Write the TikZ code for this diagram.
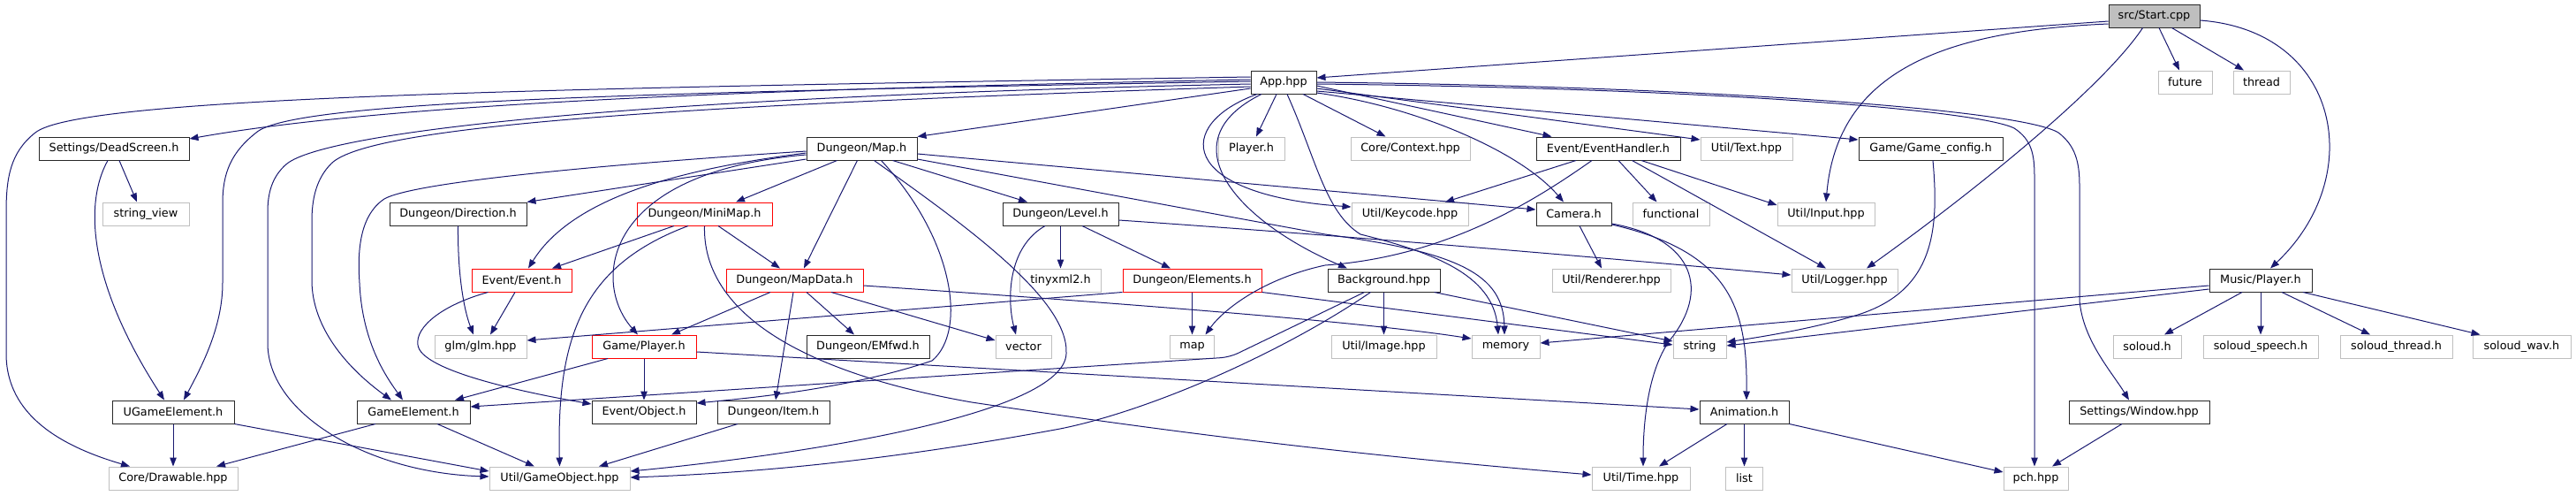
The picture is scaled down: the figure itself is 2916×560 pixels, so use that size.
\documentclass[tikz,border=0pt]{standalone}
\usepackage{fontspec}
\setmainfont{DejaVu Sans}
\usetikzlibrary{arrows.meta}
\definecolor{edgec}{RGB}{25,25,112}
\definecolor{greyb}{RGB}{191,191,191}
\definecolor{rootf}{RGB}{191,191,191}
\definecolor{redb}{RGB}{255,0,0}
\definecolor{darkb}{RGB}{40,40,40}
\begin{document}
\begin{tikzpicture}[x=1pt,y=-1pt,
  every node/.style={font=\fontsize{12.8}{15}\selectfont},
  box/.style={rectangle, draw=darkb, line width=1pt, fill=white, minimum height=26pt, inner sep=0pt, anchor=center},
  ext/.style={box, draw=greyb},
  trunc/.style={box, draw=redb},
  rootbox/.style={box, fill=rootf},
  e/.style={draw=edgec, line width=1pt, -{Triangle[length=10pt,width=7.5pt]}}
]
\useasboundingbox (0,0) rectangle (2916,560);
% row 0/1
\node[rootbox, minimum width=103pt] (start) at (2438.5,18) {src/Start.cpp};
\node[box, minimum width=74pt] (app) at (1453,93) {App.hpp};
\node[ext, minimum width=61pt] (future) at (2473.5,93) {future};
\node[ext, minimum width=64pt] (thread) at (2560,93) {thread};
% row 2
\node[box, minimum width=170pt] (dead) at (129,168) {Settings/DeadScreen.h};
\node[box, minimum width=125pt] (map) at (975.5,168) {Dungeon/Map.h};
\node[ext, minimum width=75pt] (playerh) at (1416.5,168) {Player.h};
\node[ext, minimum width=135pt] (context) at (1596.5,168) {Core/Context.hpp};
\node[box, minimum width=163pt] (evh) at (1820.5,168) {Event/EventHandler.h};
\node[ext, minimum width=104pt] (text) at (1977,168) {Util/Text.hpp};
\node[box, minimum width=163pt] (gconf) at (2185.5,168) {Game/Game\_config.h};
% row 3
\node[ext, minimum width=98pt] (sview) at (165,242) {string\_view};
\node[box, minimum width=155pt] (dir) at (518.5,242) {Dungeon/Direction.h};
\node[trunc, minimum width=153pt] (minimap) at (797.5,242) {Dungeon/MiniMap.h};
\node[box, minimum width=131pt] (level) at (1200.5,242) {Dungeon/Level.h};
\node[ext, minimum width=132pt] (keycode) at (1596,242) {Util/Keycode.hpp};
\node[box, minimum width=85pt] (camera) at (1781.5,242) {Camera.h};
\node[ext, minimum width=87pt] (functional) at (1891.5,242) {functional};
\node[ext, minimum width=110pt] (input) at (2067,242) {Util/Input.hpp};
% row 4
\node[trunc, minimum width=113pt] (event) at (590.5,317) {Event/Event.h};
\node[trunc, minimum width=155pt] (mapdata) at (899.5,317) {Dungeon/MapData.h};
\node[ext, minimum width=92pt] (tinyxml) at (1200.5,317) {tinyxml2.h};
\node[trunc, minimum width=157pt] (elements) at (1349.5,317) {Dungeon/Elements.h};
\node[box, minimum width=127pt] (background) at (1566.5,317) {Background.hpp};
\node[ext, minimum width=134pt] (renderer) at (1824,317) {Util/Renderer.hpp};
\node[ext, minimum width=120pt] (logger) at (2088,317) {Util/Logger.hpp};
\node[box, minimum width=116pt] (music) at (2559,317) {Music/Player.h};
% row 5
\node[ext, minimum width=104pt] (glm) at (544,392) {glm/glm.hpp};
\node[trunc, minimum width=118pt] (gplayer) at (729,392) {Game/Player.h};
\node[box, minimum width=139pt] (emfwd) at (982.5,392) {Dungeon/EMfwd.h};
\node[ext, minimum width=63pt] (vector) at (1158.5,392) {vector};
\node[ext, minimum width=50pt] (stdmap) at (1349.5,392) {map};
\node[ext, minimum width=119pt] (image) at (1566.5,392) {Util/Image.hpp};
\node[ext, minimum width=77pt] (memory) at (1704.5,392) {memory};
\node[ext, minimum width=60pt] (string) at (1924,392) {string};
\node[ext, minimum width=77pt] (soloud) at (2430.5,392) {soloud.h};
\node[ext, minimum width=130pt] (speech) at (2559,392) {soloud\_speech.h};
\node[ext, minimum width=127pt] (sthread) at (2712.5,392) {soloud\_thread.h};
\node[ext, minimum width=111pt] (wav) at (2854.5,392) {soloud\_wav.h};
% row 6
\node[box, minimum width=138pt] (ugame) at (196,466) {UGameElement.h};
\node[box, minimum width=128pt] (gelem) at (468,466) {GameElement.h};
\node[box, minimum width=118pt] (object) at (729,466) {Event/Object.h};
\node[box, minimum width=127pt] (item) at (875.5,466) {Dungeon/Item.h};
\node[box, minimum width=101pt] (anim) at (1974.5,466) {Animation.h};
\node[box, minimum width=159pt] (window) at (2421.5,466) {Settings/Window.hpp};
% row 7
\node[ext, minimum width=146pt] (drawable) at (196,541) {Core/Drawable.hpp};
\node[ext, minimum width=159pt] (gobj) at (633.5,541) {Util/GameObject.hpp};
\node[ext, minimum width=111pt] (time) at (1857.5,541) {Util/Time.hpp};
\node[ext, minimum width=42pt] (list) at (1974.5,541) {list};
\node[ext, minimum width=73pt] (pch) at (2304.5,541) {pch.hpp};

% ---- Start.cpp
\draw[e] ([yshift=-6pt]start.west) -- ([yshift=5pt]app.east);
\draw[e] ([xshift=5.5pt]start.south) -- ([xshift=-6.5pt]future.north);
\draw[e] ([xshift=20pt]start.south) -- ([xshift=-20pt]thread.north);
\draw[e] ([yshift=-5pt]start.east) .. controls (2650,35) and (2680,200) .. ([xshift=11pt]music.north);
\draw[e] ([yshift=-9pt]start.west) .. controls (2200,35) and (2080,80) .. (input.north);
\draw[e] ([xshift=-13pt]start.south) .. controls (2380,100) and (2230,220) .. ([xshift=25pt]logger.north);

% ---- App.hpp
\draw[e] ([yshift=3pt]app.west) .. controls (900,100) and (450,115) .. ([yshift=11pt]dead.east);
\draw[e] ([yshift=6pt]app.west) .. controls (600,100) and (90,110) .. (40,150) .. controls (12,172) and (7,200) .. (7,240) -- (7,400) .. controls (7,470) and (70,505) .. ([xshift=-49pt]drawable.north);
\draw[e] ([yshift=1pt]app.west) .. controls (700,105) and (330,115) .. (290,150) .. controls (262,172) and (252,195) .. (252,230) -- (252,320) .. controls (252,370) and (228,415) .. ([xshift=12pt]ugame.north);
\draw[e] ([yshift=-2pt]app.west) .. controls (700,110) and (370,150) .. (325,185) .. controls (307,200) and (303,220) .. (303,240) -- (303,390) .. controls (305,470) and (420,535) .. ([yshift=2pt]gobj.west);
\draw[e] ([yshift=-5pt]app.west) .. controls (800,118) and (420,140) .. (375,185) .. controls (358,202) and (353,225) .. (353,250) -- (353,320) .. controls (355,380) and (405,425) .. ([xshift=-25pt]gelem.north);
\draw[e] ([yshift=-7pt]app.west) -- (map.north east);
\draw[e] ([xshift=-8pt]app.south) -- ([xshift=5.5pt]playerh.north);
\draw[e] ([xshift=22pt]app.south) -- ([xshift=-28pt]context.north);
\draw[e] ([yshift=-4pt]app.east) -- ([xshift=-64pt]evh.north);
\draw[e] ([yshift=-7pt]app.east) -- ([yshift=10pt]text.west);
\draw[e] ([yshift=-10pt]app.east) -- ([yshift=10pt]gconf.west);
\draw[e] ([yshift=-12pt]app.east) .. controls (1600,120) and (1720,170) .. ([xshift=-11.5pt]camera.north);
\draw[e] ([xshift=-30pt]app.south) .. controls (1330,140) and (1330,220) .. ([yshift=8pt]keycode.west);
\draw[e] ([xshift=-25pt]app.south) .. controls (1320,160) and (1400,250) .. ([xshift=-41.5pt]background.north);
\draw[e] ([xshift=4pt]app.south) .. controls (1490,180) and (1500,240) .. (1540,265) .. controls (1620,285) and (1690,310) .. ([xshift=-8.5pt]memory.north);
\draw[e] ([yshift=-2pt]app.east) .. controls (1950,100) and (2240,125) .. (2280,145) .. controls (2300,158) and (2303,175) .. (2303,200) -- ([xshift=-1.5pt]pch.north);
\draw[e] (app.east) .. controls (1950,98) and (2290,125) .. (2330,150) .. controls (2350,165) and (2354,185) .. (2354,210) -- (2354,340) .. controls (2358,385) and (2390,420) .. ([xshift=-11.5pt]window.north);

% ---- Dungeon/Map.h
\draw[e] ([yshift=-12pt]map.west) -- (dir.north east);
\draw[e] ([yshift=-5pt]map.west) .. controls (780,190) and (650,220) .. ([xshift=7.5pt]event.north);
\draw[e] ([yshift=-7pt]map.west) .. controls (680,195) and (670,320) .. ([xshift=-7pt]gplayer.north);
\draw[e] ([yshift=-3pt]map.west) .. controls (700,185) and (470,205) .. (435,225) .. controls (405,245) and (405,290) .. (407,320) .. controls (410,390) and (440,430) .. ([xshift=-12pt]gelem.north);
\draw[e] ([xshift=-28pt]map.south) -- ([xshift=35.5pt]minimap.north);
\draw[e] ([xshift=-5pt]map.south) -- ([xshift=10.5pt]mapdata.north);
\draw[e] ([xshift=35pt]map.south) -- ([xshift=-37.5pt]level.north);
\draw[e] ([yshift=-6pt]map.east) -- ([yshift=5pt]camera.west);
\draw[e] ([yshift=-12pt]map.east) -- (1500,265) .. controls (1650,285) and (1702,310) .. ([xshift=-1.5pt]memory.north);
\draw[e] ([xshift=14pt]map.south) .. controls (1100,260) and (1210,340) .. (1207,400) .. controls (1204,470) and (900,515) .. ([yshift=8pt]gobj.east);
\draw[e] ([xshift=22pt]map.south) .. controls (1080,270) and (1095,375) .. (1055,408) .. controls (960,440) and (850,450) .. ([yshift=10pt]object.east);

% ---- Settings/DeadScreen.h
\draw[e] ([xshift=6pt]dead.south) -- ([xshift=-10pt]sview.north);
\draw[e] ([xshift=-7pt]dead.south) .. controls (95,230) and (100,320) .. ([xshift=-10pt]ugame.north);

% ---- UGameElement / GameElement
\draw[e] (ugame.south) -- (drawable.north);
\draw[e] (ugame.south east) -- ([yshift=8pt]gobj.west);
\draw[e] ([xshift=-43pt]gelem.south) -- ([xshift=49pt]drawable.north);
\draw[e] ([xshift=27pt]gelem.south) -- ([xshift=-28.5pt]gobj.north);

% ---- Direction / MiniMap / Event
\draw[e] (dir.south) .. controls (518,310) and (525,350) .. ([xshift=-8pt]glm.north);
\draw[e] ([xshift=-34.5pt]minimap.south) -- ([xshift=34.5pt]event.north);
\draw[e] ([xshift=15.5pt]minimap.south) -- ([xshift=-16.5pt]mapdata.north);
\draw[e] ([xshift=-18.5pt]minimap.south) .. controls (660,300) and (630,380) .. (gobj.north);
\draw[e] (minimap.south) .. controls (795,350) and (900,420) .. (1100,455) .. controls (1400,500) and (1600,520) .. ([yshift=4pt]time.west);
\draw[e] ([xshift=-7.5pt]event.south) -- ([xshift=11pt]glm.north);
\draw[e] ([xshift=-38pt]event.south) .. controls (500,345) and (470,370) .. (473,390) .. controls (476,420) and (600,445) .. ([yshift=9pt]object.west);

% ---- MapData
\draw[e] ([xshift=-27.5pt]mapdata.south) -- ([xshift=31pt]gplayer.north);
\draw[e] ([xshift=13.5pt]mapdata.south) -- ([xshift=-15.5pt]emfwd.north);
\draw[e] ([xshift=-1.5pt]mapdata.south) -- ([xshift=2.5pt]item.north);
\draw[e] ([xshift=41.5pt]mapdata.south) -- ([yshift=7pt]vector.west);
\draw[e] ([yshift=-6pt]mapdata.east) .. controls (1300,345) and (1550,365) .. ([yshift=9pt]memory.west);

% ---- Level / Elements
\draw[e] ([xshift=-17.5pt]level.south) .. controls (1140,280) and (1140,340) .. ([xshift=-8.5pt]vector.north);
\draw[e] (level.south) -- (tinyxml.north);
\draw[e] ([xshift=24.5pt]level.south) -- ([xshift=-24.5pt]elements.north);
\draw[e] ([yshift=-7pt]level.east) .. controls (1500,265) and (1800,290) .. ([yshift=6pt]logger.west);
\draw[e] (elements.south) -- (stdmap.north);
\draw[e] (elements.south west) -- ([yshift=7pt]glm.east);
\draw[e] (elements.south east) -- ([yshift=2pt]string.west);

% ---- EventHandler
\draw[e] ([xshift=-36.5pt]evh.south) -- ([xshift=40pt]keycode.north);
\draw[e] ([xshift=-18.5pt]evh.south) .. controls (1740,225) and (1640,290) .. (1500,300) .. controls (1430,315) and (1385,350) .. ([xshift=15pt]stdmap.north);
\draw[e] ([xshift=11.5pt]evh.south) -- ([xshift=-16pt]functional.north);
\draw[e] ([xshift=37.5pt]evh.south) -- ([yshift=10pt]input.west);
\draw[e] ([xshift=27pt]evh.south) -- ([xshift=-21pt]logger.north);

% ---- Camera
\draw[e] ([xshift=6.5pt]camera.south) -- ([xshift=-11pt]renderer.north);
\draw[e] ([yshift=-11pt]camera.east) .. controls (1920,270) and (1935,330) .. (1890,385) .. controls (1865,420) and (1860,480) .. ([xshift=2.5pt]time.north);
\draw[e] ([yshift=-12pt]camera.east) .. controls (1960,285) and (1978,350) .. ([xshift=2.5pt]anim.north);

% ---- Background
\draw[e] (background.south) -- (image.north);
\draw[e] ([xshift=57pt]background.south) -- ([yshift=6pt]string.west);
\draw[e, rounded corners=10pt] ([xshift=-22pt]background.south) -- (1392,404) -- ([yshift=6pt]gelem.east);
\draw[e] ([xshift=-15pt]background.south) .. controls (1450,400) and (1300,465) .. (1200,485) .. controls (1000,522) and (850,535) .. ([yshift=1pt]gobj.east);

% ---- Game/Player.h, Item, Animation, Window
\draw[e] ([xshift=-41pt]gplayer.south) -- ([xshift=47pt]gelem.north);
\draw[e] (gplayer.south) -- (object.north);
\draw[e] ([yshift=-6pt]gplayer.east) -- ([yshift=3pt]anim.west);
\draw[e] ([xshift=-40.5pt]item.south) -- ([xshift=44.5pt]gobj.north);
\draw[e] ([xshift=-19.5pt]anim.south) -- ([xshift=20.5pt]time.north);
\draw[e] (anim.south) -- (list.north);
\draw[e] (anim.south east) -- ([yshift=7pt]pch.west);
\draw[e] ([xshift=-19.5pt]window.south) -- ([xshift=18.5pt]pch.north);

% ---- Game_config
\draw[e] ([xshift=2.5pt]gconf.south) .. controls (2195,260) and (2190,330) .. (2100,357) .. controls (2050,372) and (2000,380) .. ([yshift=5pt]string.east);

% ---- Music/Player.h
\draw[e] ([yshift=-6pt]music.west) -- ([yshift=4pt]memory.east);
\draw[e] ([yshift=-10pt]music.west) -- ([yshift=1pt]string.east);
\draw[e] ([xshift=-21pt]music.south) -- ([xshift=19.5pt]soloud.north);
\draw[e] (music.south) -- (speech.north);
\draw[e] ([xshift=24pt]music.south) -- ([xshift=-29.5pt]sthread.north);
\draw[e] ([xshift=48pt]music.south) -- ([xshift=-47pt]wav.north);
\end{tikzpicture}
\end{document}
